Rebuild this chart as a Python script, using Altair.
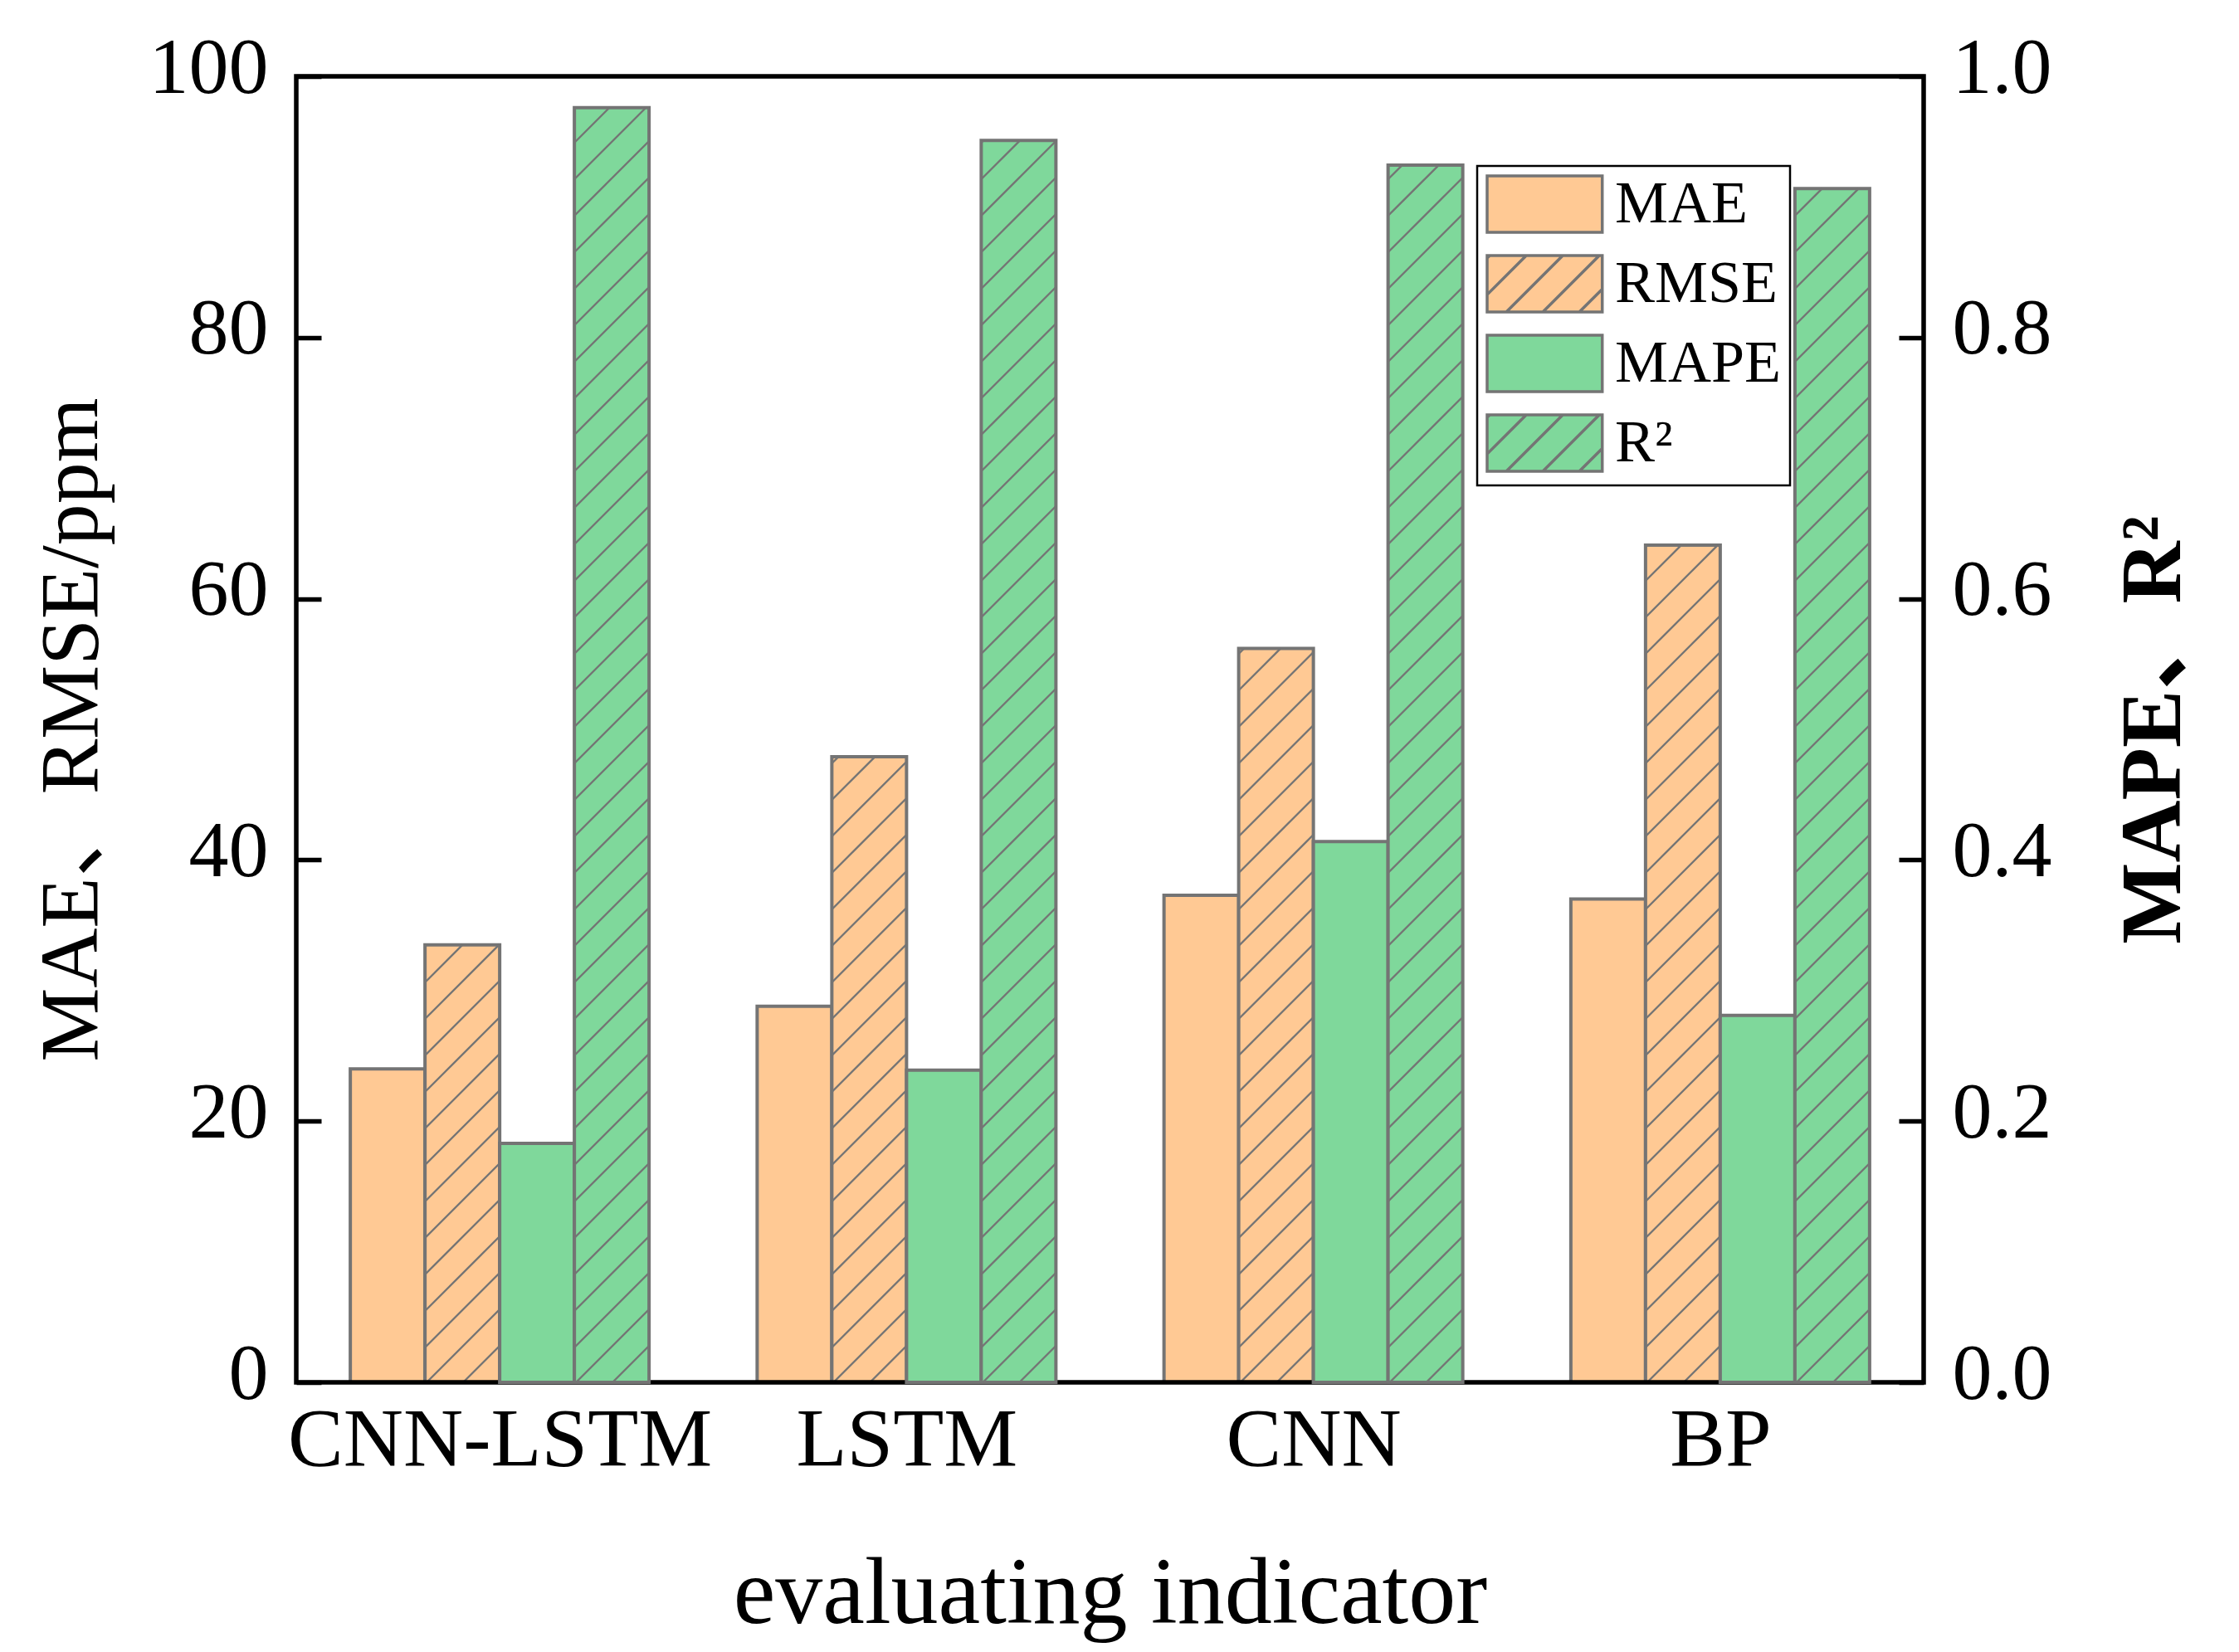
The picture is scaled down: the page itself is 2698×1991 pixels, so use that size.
import json
import altair as alt
import pandas as pd

# values
models = ["CNN-LSTM", "LSTM", "CNN", "BP"]
metrics = ["MAE", "RMSE", "MAPE", "R²"]
mae = [24.0, 28.8, 37.3, 37.0]
rmse = [33.5, 47.9, 56.2, 64.1]
mape = [0.183, 0.239, 0.414, 0.281]
r2 = [0.976, 0.951, 0.932, 0.914]

left_ticks = [0, 20, 40, 60, 80, 100]
right_ticks = [0.0, 0.2, 0.4, 0.6, 0.8, 1.0]

ORANGE = "#FFC994"
GREEN = "#7FD89B"
EDGE = "#747474"
FONT = "Liberation Serif"
TITLE_FONT = "Liberation Serif, Noto Sans CJK SC"

W, H = 1961, 1574      # plot area
BAR_PX = 90            # bar width
HATCH_PX = 44          # vertical distance between hatch lines
PPX = W / len(models)  # pixels per group

rows = []
for i, m in enumerate(models):
    for j, (name, series) in enumerate(zip(metrics, [mae, rmse, mape, r2])):
        rows.append({"model": m, "idx": i, "slot": j, "metric": name, "value": series[i]})
df = pd.DataFrame(rows)


# legend swatches: rectangle, optionally hatched (custom symbol path)
def swatch(hatched):
    xl, xr = -1.0, 3.08
    path = f"M{xl},-1H{xr}V1H{xl}Z"
    if hatched:
        d = HATCH_PX / 34
        xb = -0.32 - 3 * d
        while xb < xr:
            lo, hi = max(xb, xl), min(xb + 2, xr)
            if hi > lo:
                path += f"M{lo:.3f},{1 - (lo - xb):.3f}L{hi:.3f},{1 - (hi - xb):.3f}"
            xb += d
    return path


shapes = [swatch(False), swatch(True), swatch(False), swatch(True)]

x_scale = alt.Scale(domain=[0, len(models)], nice=False, zero=False)
x_axis = alt.Axis(
    values=[i + 0.5 for i in range(len(models))],
    labelExpr=f"{json.dumps(models)}[floor(datum.value)]",
    ticks=False, domain=False, grid=False, labelOverlap=False, labelLimit=2000,
    labelFont=FONT, labelFontSize=100, labelPadding=20, labelColor="black",
    title="evaluating indicator", titleFont=FONT, titleFontSize=114,
    titleFontWeight="normal", titleColor="black", titlePadding=80,
)


def y_axis(side, values, fmt, title, weight, pad, angle):
    return alt.Axis(
        orient=side, values=values, format=fmt, grid=False, domain=False,
        tickSize=30, offset=-30, tickWidth=5.5, tickColor="black",
        labelFont=FONT, labelFontSize=96, labelColor="black", labelPadding=34,
        labelOffset=-10, labelLimit=2000,
        title=title, titleFont=TITLE_FONT, titleFontSize=100 if weight == "normal" else 104,
        titleFontWeight=weight, titleColor="black", titlePadding=pad, titleAngle=angle,
        titleBaseline="bottom" if side == "left" else "top",
    )


left_axis = y_axis("left", left_ticks, "d", "MAE、RMSE/ppm", "normal", 50, 270)
right_axis = y_axis("right", right_ticks, ".1f", "MAPE、R²", "bold", 72, 270)
left_scale = alt.Scale(domain=[0, 100], nice=False)
right_scale = alt.Scale(domain=[0, 1], nice=False)

base = alt.Chart(df).transform_calculate(
    x0=f"datum.idx + 0.5 + (datum.slot - 2) * {BAR_PX / PPX}",
    x1=f"datum.idx + 0.5 + (datum.slot - 1) * {BAR_PX / PPX}",
)


def bars(keep, color, scale, axis):
    return base.transform_filter(
        alt.FieldOneOfPredicate(field="metric", oneOf=keep)
    ).mark_rect(fill=color, stroke=EDGE, strokeWidth=4).encode(
        x=alt.X("x0:Q", scale=x_scale, axis=x_axis),
        x2="x1",
        y=alt.Y("value:Q", scale=scale, axis=axis),
        y2=alt.datum(0),
    )


def hatch(metric, ymax, scale, axis):
    ppy = H / ymax
    return base.transform_filter(alt.datum.metric == metric).transform_calculate(
        hpx=f"datum.value * {ppy}",
        k=f"sequence(0, ceil((datum.value * {ppy} + {BAR_PX}) / {HATCH_PX}) + 1)",
    ).transform_flatten(["k"]).transform_calculate(
        s=f"datum.k * {HATCH_PX} - {BAR_PX}",
    ).transform_calculate(
        lo="max(0, -datum.s)",
        hi=f"min({BAR_PX}, datum.hpx - datum.s)",
    ).transform_filter("datum.hi > datum.lo").transform_calculate(
        hx0=f"datum.x0 + datum.lo / {PPX}",
        hx1=f"datum.x0 + datum.hi / {PPX}",
        hy0=f"(datum.s + datum.lo) / {ppy}",
        hy1=f"(datum.s + datum.hi) / {ppy}",
    ).mark_rule(color=EDGE, strokeWidth=2.4).encode(
        x=alt.X("hx0:Q", scale=x_scale, axis=x_axis),
        x2="hx1",
        y=alt.Y("hy0:Q", scale=scale, axis=axis),
        y2="hy1",
    )


legend = alt.Legend(
    title=None, orient="none", legendX=1423, legendY=108,
    strokeColor="black", fillColor="white", padding=10,
    symbolSize=34 * 34 * 4, symbolStrokeWidth=3.5,
    symbolOpacity=1, rowPadding=14,
    labelFont=FONT, labelFontSize=72, labelColor="black", labelOffset=84,
    labelLimit=2000,
)

legend_layer = base.mark_point(filled=True, opacity=0).encode(
    x=alt.X("x0:Q", scale=x_scale, axis=x_axis),
    y=alt.Y("value:Q", scale=left_scale, axis=left_axis),
    fill=alt.Fill("metric:N", scale=alt.Scale(domain=metrics, range=[ORANGE, ORANGE, GREEN, GREEN]),
                  legend=legend),
    stroke=alt.Stroke("metric:N", scale=alt.Scale(domain=metrics, range=[EDGE] * 4), legend=legend),
    shape=alt.Shape("metric:N", scale=alt.Scale(domain=metrics, range=shapes), legend=legend),
)

# plot frame drawn above the bars, spanning the full scale domains
frame = alt.Chart(pd.DataFrame({"f": [0]})).mark_rect(
    fill="transparent", stroke="black", strokeWidth=5.5
).encode(
    x=alt.X(datum=0, scale=x_scale, axis=x_axis),
    x2=alt.datum(len(models)),
    y=alt.Y(datum=0, scale=left_scale, axis=left_axis),
    y2=alt.datum(100),
)

left = alt.layer(
    bars(["MAE", "RMSE"], ORANGE, left_scale, left_axis),
    hatch("RMSE", 100, left_scale, left_axis),
    legend_layer,
)
right = alt.layer(
    bars(["MAPE", "R²"], GREEN, right_scale, right_axis),
    hatch("R²", 1, right_scale, right_axis),
)
top = alt.layer(left, frame)

chart = alt.layer(top, right).resolve_scale(y="independent").properties(
    width=W, height=H,
    autosize=alt.AutoSizeParams(type="none"),
    padding={"left": 349, "top": 84, "right": 365, "bottom": 316},
    background="white",
).configure_view(stroke=None).configure_legend(strokeWidth=2.5)

chart.save("out.html", embed_options={"renderer": "svg", "actions": False})
